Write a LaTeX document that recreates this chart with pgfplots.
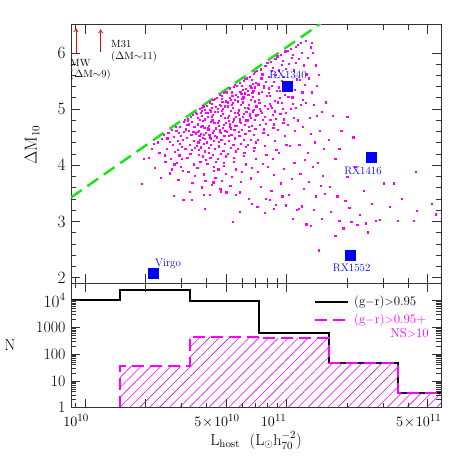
\documentclass[border=0pt]{standalone}
\usepackage{pgfplots}
\pgfplotsset{compat=1.18}
\usetikzlibrary{patterns.meta,arrows.meta}
\definecolor{lgreen}{RGB}{20,230,20}
\definecolor{mag}{RGB}{255,0,255}
\begin{document}
\begin{tikzpicture}
\useasboundingbox (0bp,0bp) rectangle (458bp,458bp);
\pgfplotsset{
  myax/.style={
    scale only axis, width=370bp,
    xmin=9.9306, xmax=11.765,
    axis line style={line width=0.8bp, black!80},
    major tick length=9bp, minor tick length=5bp,
    tick style={line width=0.6bp, black!80},
    tick align=inside,
    xtick={10,10.30103,10.69897,11,11.69897},
    minor xtick={9.95424,10.47712,10.60206,10.77815,10.84510,10.90309,10.95424,11.30103,11.47712,11.60206},
    tick label style={font=\fontsize{16}{18}\selectfont},
    label style={font=\fontsize{16}{18}\selectfont},
  }
}
\begin{axis}[myax, at={(71bp,174.7bp)}, anchor=south west, height=258.6bp,
  ymin=1.9, ymax=6.5, ytick={2,3,4,5,6}, minor y tick num=4,
  xticklabels={}, 
  yticklabel style={xshift=-2bp},
  ylabel={$\Delta\mathrm{M}_{10}$},
  ylabel style={at={(axis description cs:-0.105,0.535)}, anchor=center},
]
\addplot[only marks, mark=square*, mag, mark size=0.6bp] coordinates {
(10.283,3.67)(10.29,4.12)(10.314,4.14)(10.33,4.30)(10.345,3.95)(10.34,4.38)(10.368,4.23)(10.397,4.18)(10.38,4.47)(10.36,4.41)(10.392,4.55)(10.375,3.78)(10.398,4.06)(10.405,4.29)(10.42,3.86)(10.421,4.42)(10.43,4.63)(10.412,4.58)(10.44,4.51)(10.446,4.24)(10.425,4.12)(10.438,3.46)(10.433,4.37)(10.448,4.69)(10.408,4.48)(10.428,3.93)(10.442,4.02)
(10.487,3.38)(10.529,3.38)(10.59,3.48)(10.595,3.23)(10.636,3.70)(10.673,3.54)(10.70,3.52)(10.732,2.99)(10.749,3.47)(10.768,3.17)(10.81,3.41)(10.854,3.26)(10.826,3.31)(10.889,3.15)(10.916,3.38)(10.935,3.22)(10.978,3.45)(10.995,3.29)(11.028,3.05)(11.075,3.27)
(10.452,4.61)(10.467,4.18)(10.458,4.44)(10.471,4.69)(10.483,3.91)(10.476,4.52)(10.49,4.77)(10.462,3.74)(10.497,4.29)(10.455,4.05)(10.488,4.6)(10.479,4.33)(10.466,4.58)(10.494,4.81)(10.473,3.97)(10.485,4.46)(10.459,4.27)(10.499,4.64)(10.481,4.12)(10.469,4.39)
(10.503,4.72)(10.518,4.36)(10.509,4.83)(10.527,4.55)(10.534,4.9)(10.512,3.88)(10.541,4.68)(10.522,4.21)(10.548,4.94)(10.505,4.49)(10.537,4.02)(10.529,4.77)(10.545,4.31)(10.514,4.62)(10.531,3.69)(10.549,4.57)(10.507,4.14)(10.524,4.86)(10.539,4.44)(10.516,4.73)(10.543,3.81)(10.528,4.27)(10.511,4.79)(10.536,4.6)(10.52,3.53)
(10.553,4.92)(10.561,4.41)(10.558,4.73)(10.567,5.0)(10.572,4.56)(10.579,4.88)(10.564,4.19)(10.586,5.05)(10.591,4.67)(10.575,4.32)(10.597,4.94)(10.556,3.96)(10.583,4.49)(10.569,4.81)(10.594,4.25)(10.577,5.02)(10.588,3.84)(10.562,4.62)(10.599,4.58)(10.571,4.07)(10.581,4.71)(10.554,4.35)(10.593,4.99)(10.566,4.53)(10.585,4.16)(10.574,4.93)(10.596,3.72)(10.559,4.84)(10.59,4.39)(10.578,3.61)(10.568,4.45)(10.584,4.79)(10.557,4.6)(10.598,4.1)(10.573,4.68)(10.592,4.82)(10.563,4.28)(10.587,4.54)(10.58,4.97)(10.595,4.47)
(10.603,5.06)(10.611,4.64)(10.608,4.93)(10.617,5.12)(10.622,4.48)(10.629,4.87)(10.614,4.22)(10.636,5.16)(10.641,4.75)(10.625,4.36)(10.647,5.04)(10.606,4.03)(10.633,4.58)(10.619,4.99)(10.644,4.29)(10.627,5.09)(10.638,3.91)(10.612,4.71)(10.649,4.66)(10.621,4.13)(10.631,4.8)(10.604,4.41)(10.643,5.18)(10.616,4.55)(10.635,4.19)(10.624,4.96)(10.646,3.78)(10.609,4.86)(10.64,4.44)(10.628,3.66)(10.618,4.5)(10.634,4.9)(10.607,4.67)(10.648,4.07)(10.623,4.78)(10.642,4.95)(10.613,4.31)(10.637,4.62)(10.63,5.03)(10.645,4.52)(10.62,3.47)(10.639,3.98)
(10.652,5.2)(10.661,4.7)(10.658,5.01)(10.667,5.25)(10.672,4.58)(10.679,4.97)(10.664,4.34)(10.686,5.29)(10.691,4.84)(10.675,4.46)(10.697,5.14)(10.656,4.12)(10.683,4.67)(10.669,5.08)(10.694,4.38)(10.677,5.19)(10.688,3.99)(10.662,4.79)(10.699,4.76)(10.671,4.21)(10.681,4.91)(10.654,4.5)(10.693,5.31)(10.666,4.63)(10.685,4.26)(10.674,5.06)(10.696,3.85)(10.659,4.95)(10.69,4.53)(10.678,3.73)(10.668,4.59)(10.684,5.0)(10.657,4.75)(10.698,4.16)(10.673,4.88)(10.692,5.05)(10.663,4.42)(10.687,4.72)(10.68,5.13)(10.695,4.61)(10.67,3.58)(10.689,4.04)(10.676,5.23)(10.66,3.93)
(10.703,5.3)(10.711,4.79)(10.708,5.12)(10.717,5.37)(10.722,4.66)(10.729,5.08)(10.714,4.44)(10.736,5.4)(10.741,4.93)(10.725,4.55)(10.747,5.26)(10.706,4.2)(10.733,4.77)(10.719,5.2)(10.744,4.48)(10.727,5.3)(10.738,4.07)(10.712,4.88)(10.749,4.86)(10.721,4.31)(10.731,5.02)(10.704,4.6)(10.743,5.43)(10.716,4.73)(10.735,4.36)(10.724,5.16)(10.746,3.93)(10.709,5.05)(10.74,4.63)(10.728,3.8)(10.718,4.69)(10.734,5.11)(10.707,4.85)(10.748,4.25)(10.723,4.97)(10.742,5.17)(10.713,4.52)(10.737,4.82)(10.73,5.24)(10.745,4.71)(10.72,3.64)(10.739,4.13)
(10.753,5.42)(10.761,4.9)(10.758,5.22)(10.767,5.47)(10.772,4.75)(10.779,5.19)(10.764,4.53)(10.786,5.5)(10.791,5.03)(10.775,4.63)(10.797,5.36)(10.756,4.29)(10.783,4.87)(10.769,5.31)(10.794,4.56)(10.777,5.41)(10.788,4.17)(10.762,4.98)(10.799,4.95)(10.771,4.39)(10.781,5.12)(10.754,4.7)(10.793,5.54)(10.766,4.82)(10.785,4.45)(10.774,5.27)(10.796,4.02)(10.759,5.14)(10.79,4.72)(10.778,3.88)(10.768,4.78)(10.784,5.21)(10.757,4.94)(10.798,4.33)(10.773,5.08)(10.792,5.28)(10.763,4.6)(10.787,4.91)(10.78,5.35)(10.795,4.8)(10.77,3.71)(10.789,4.23)(10.765,3.52)
(10.803,5.55)(10.811,5.01)(10.808,5.33)(10.817,5.58)(10.822,4.84)(10.829,5.29)(10.814,4.62)(10.836,5.63)(10.841,5.14)(10.825,4.71)(10.847,5.47)(10.806,4.37)(10.833,4.96)(10.819,5.42)(10.844,4.65)(10.827,5.52)(10.838,4.26)(10.812,5.08)(10.849,5.05)(10.821,4.46)(10.831,5.22)(10.804,4.8)(10.843,5.66)(10.816,4.92)(10.835,4.54)(10.824,5.38)(10.846,4.11)(10.809,5.25)(10.84,4.81)(10.828,3.96)(10.818,4.88)(10.834,5.32)(10.807,5.03)(10.848,4.41)(10.823,5.17)(10.842,5.39)(10.813,4.69)(10.837,4.99)(10.83,5.45)(10.845,4.89)(10.82,3.77)(10.839,4.31)
(10.853,5.68)(10.864,5.11)(10.859,5.44)(10.871,5.71)(10.877,4.93)(10.886,5.38)(10.868,4.72)(10.893,5.77)(10.899,5.23)(10.881,4.81)(10.856,4.45)(10.889,5.06)(10.874,5.55)(10.896,4.74)(10.879,5.62)(10.891,4.35)(10.862,5.17)(10.883,4.58)(10.857,4.9)(10.895,5.49)(10.866,5.0)(10.887,4.64)(10.876,5.31)(10.898,4.19)(10.861,5.28)(10.892,4.87)(10.88,4.03)(10.87,4.97)(10.885,5.42)(10.858,3.89)(10.873,3.62)(10.894,3.4)
(10.903,5.82)(10.914,5.24)(10.909,5.57)(10.921,5.84)(10.927,5.02)(10.936,5.48)(10.918,4.81)(10.943,5.9)(10.949,5.33)(10.931,4.9)(10.906,4.54)(10.939,5.15)(10.924,5.68)(10.946,4.83)(10.929,5.74)(10.941,4.44)(10.912,5.29)(10.933,4.67)(10.907,5.0)(10.945,5.61)(10.916,5.1)(10.937,4.73)(10.926,5.41)(10.948,4.28)(10.911,5.37)(10.942,4.96)(10.93,4.12)(10.92,5.06)(10.935,3.83)(10.904,3.97)(10.923,3.55)(10.947,3.3)
(10.953,5.94)(10.964,5.33)(10.959,5.69)(10.971,5.97)(10.977,5.11)(10.986,5.58)(10.968,4.91)(10.993,6.03)(10.999,5.43)(10.981,5.0)(10.956,4.63)(10.989,5.25)(10.974,5.79)(10.996,4.93)(10.979,5.86)(10.991,4.53)(10.962,5.39)(10.983,4.76)(10.957,5.12)(10.995,5.72)(10.966,5.2)(10.987,4.82)(10.976,5.5)(10.998,4.37)(10.961,4.22)(10.985,3.94)(10.972,3.68)
(11.003,6.04)(11.014,5.43)(11.009,5.8)(11.021,6.08)(11.027,5.21)(11.036,5.69)(11.018,5.0)(11.043,6.11)(11.049,5.53)(11.031,5.09)(11.006,4.72)(11.039,5.35)(11.024,5.91)(11.046,5.03)(11.029,5.97)(11.041,4.61)(11.012,5.49)(11.033,4.84)(11.007,5.22)(11.045,5.83)(11.016,4.35)(11.037,4.05)(11.026,3.76)(11.011,3.48)(11.048,3.21)
(11.053,6.15)(11.064,5.52)(11.059,5.9)(11.071,6.18)(11.077,5.3)(11.086,5.78)(11.068,5.08)(11.093,6.22)(11.099,5.62)(11.081,5.17)(11.056,4.8)(11.089,5.43)(11.074,6.0)(11.096,5.11)(11.079,4.68)(11.062,4.37)(11.091,4.1)(11.067,3.85)(11.084,3.58)(11.058,3.22)(11.097,2.95)
(11.124,6.18)(11.13,6.0)(11.117,6.1)(11.105,5.91)(11.142,5.78)(11.15,5.42)(11.108,5.55)(11.125,5.3)(11.16,5.61)(11.135,5.07)(11.113,4.85)(11.148,4.88)(11.172,4.95)(11.12,4.56)(11.138,4.41)(11.165,4.62)(11.185,4.3)(11.103,4.22)(11.128,3.98)(11.155,4.05)(11.178,3.82)(11.17,3.63)(11.11,3.71)(11.145,3.45)(11.19,3.5)(11.16,2.49)(11.132,3.21)(11.175,3.05)(11.195,5.12)(11.118,2.92)
(11.23,4.88)(11.24,4.11)(11.26,4.30)(11.30,4.87)(11.33,4.5)(11.29,3.37)(11.32,2.99)(11.30,3.80)(11.24,2.74)(11.215,3.62)(11.25,3.45)(11.28,2.88)(11.36,3.12)(11.34,3.98)(11.22,3.18)(11.27,4.62)(11.38,3.55)(11.35,2.94)(11.21,4.45)(11.31,3.25)(11.39,2.97)(11.26,3.02)
(11.40,2.81)(11.48,3.68)(11.51,3.26)(11.53,3.68)(11.64,3.89)(11.645,3.19)(11.63,3.01)(11.44,3.01)(11.46,3.03)(11.42,3.32)(11.55,3.02)(11.74,3.13)(11.72,3.32)(11.57,3.40)
};
\addplot[lgreen, line width=2.4bp, dash pattern=on 13bp off 7bp] coordinates {(9.9306,3.4265)(11.2,6.6)};
\addplot[only marks, mark=square*, mark size=5bp, blue] coordinates {(11.003,5.40)(11.418,4.15)(11.317,2.40)(10.337,2.08)};
\addplot[red, line width=0.7bp, -{To[length=4bp,width=5bp]}] coordinates {(9.955,6.0)(9.955,6.44)};
\addplot[red, line width=0.7bp, -{To[length=4bp,width=5bp]}] coordinates {(10.078,6.02)(10.078,6.42)};
\end{axis}
\begin{axis}[myax, at={(71bp,50.3bp)}, anchor=south west, height=124.4bp,
  ymode=log, ymin=1, ymax=44000, ytick={1,10,100,1000,10000},
  yticklabels={1,10,100,1000,$10^4$},
  yticklabel style={xshift=-2bp},
  xticklabels={$10^{10}$,,$5\!\times\!10^{10}$,$10^{11}$\hspace*{8bp},$5\!\times\!10^{11}$},
  xticklabel style={yshift=-3bp, xshift=-9bp, font=\fontsize{15}{17}\selectfont},
  ylabel={N},
  ylabel style={at={(axis description cs:-0.165,0.5)}, anchor=center, rotate=-90},
  xlabel={L$_{\mathrm{host}}$\ \ (L$_\odot$h$_{70}^{-2}$)},
  xlabel style={at={(axis description cs:0.5,-0.265)}, anchor=center},
  axis on top,
]
\addplot[black, line width=2bp, const plot] coordinates {(9.829,10500)(10.174,24000)(10.519,10000)(10.864,610)(11.208,46)(11.553,3.5)(11.898,3.5)};
\addplot[draw=none, pattern={Lines[angle=45,distance=7bp,line width=0.6bp]}, pattern color=mag, const plot] coordinates {(10.174,36)(10.519,450)(10.864,390)(11.208,46)(11.553,3.5)(11.898,3.5)} \closedcycle;
\addplot[mag, line width=2bp, dash pattern=on 12bp off 6bp, const plot] coordinates {(10.174,1)(10.174,36)(10.519,450)(10.864,390)(11.208,46)(11.553,3.5)(11.898,3.5)};
\end{axis}
% legend
\draw[black, line width=2bp] (315bp,155.7bp) -- (348bp,155.7bp);
\node[anchor=west, font=\fontsize{13}{15}\selectfont, inner sep=0] at (354bp,155.7bp) {(g$-$r)$>$0.95};
\draw[mag, line width=2bp, dash pattern=on 12bp off 6bp] (315bp,138bp) -- (348bp,138bp);
\node[anchor=west, font=\fontsize{13}{15}\selectfont, inner sep=0, text=mag] at (354bp,138bp) {(g$-$r)$>$0.95+};
\node[anchor=east, font=\fontsize{13}{15}\selectfont, inner sep=0, text=mag] at (429bp,125.3bp) {NS$>$10};
% annotations
\node[anchor=west, font=\fontsize{10.5}{12}\selectfont, inner sep=0] at (70bp,395bp) {MW};
\node[anchor=west, font=\fontsize{10.5}{12}\selectfont, inner sep=0] at (70bp,383bp) {($\Delta$M$\sim$9)};
\node[anchor=west, font=\fontsize{10.5}{12}\selectfont, inner sep=0] at (111bp,414bp) {M31};
\node[anchor=west, font=\fontsize{10.5}{12}\selectfont, inner sep=0] at (111bp,401bp) {($\Delta$M$\sim$11)};
\node[font=\fontsize{11}{12}\selectfont, text=blue, inner sep=0] at (288bp,383bp) {RX1340};
\node[font=\fontsize{11}{12}\selectfont, text=blue, inner sep=0] at (363bp,287.3bp) {RX1416};
\node[font=\fontsize{11}{12}\selectfont, text=blue, inner sep=0] at (351.7bp,189.7bp) {RX1552};
\node[font=\fontsize{11}{12}\selectfont, text=blue, inner sep=0] at (168bp,194bp) {Virgo};
\end{tikzpicture}
\end{document}
